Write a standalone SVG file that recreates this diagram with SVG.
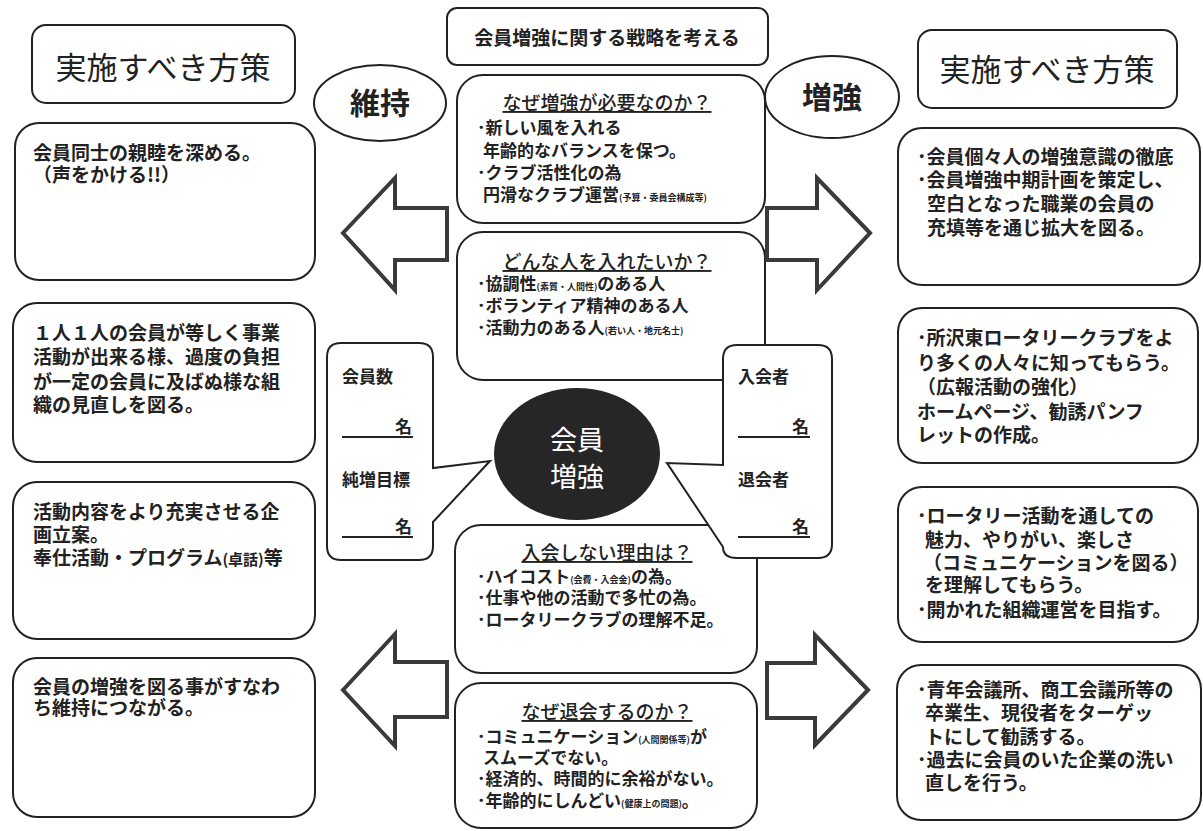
<svg xmlns="http://www.w3.org/2000/svg" width="1203" height="831" viewBox="0 0 1203 831">
<style>
text{font-family:"Noto Sans CJK JP","Noto Sans CJK SC",sans-serif;fill:#222;}
.box{fill:#fff;stroke:#222;stroke-width:2;}
.arrow{fill:#fff;stroke:#3a3a3a;stroke-width:4;stroke-linejoin:miter;}
.big{font-size:31px;}
.oval{font-size:30px;font-weight:700;}
.title{font-size:19px;font-weight:700;}
.hd{font-size:19px;font-weight:500;text-decoration:underline;}
.c{font-size:17px;font-weight:700;}
.s{font-size:19px;font-weight:700;}
.sm{font-size:9px;}
.ul{stroke:#222;stroke-width:2;}
</style>
<rect width="1203" height="831" fill="#fff"/>

<g id="title">
<rect class="box" x="447" y="8" width="321" height="57" rx="10"/>
<text class="title" x="607" y="45" text-anchor="middle">会員増強に関する戦略を考える</text>
</g>

<g id="left-header">
<rect class="box" x="32" y="25" width="263" height="78" rx="14"/>
<text class="big" x="163" y="79" text-anchor="middle">実施すべき方策</text>
</g>
<g id="right-header">
<rect class="box" x="918" y="30" width="259" height="78" rx="14"/>
<text class="big" x="1047" y="81" text-anchor="middle">実施すべき方策</text>
</g>

<g id="oval-iji">
<ellipse class="box" cx="380" cy="103" rx="66" ry="38" stroke-width="1.5"/>
<text class="oval" x="380" y="114" text-anchor="middle">維持</text>
</g>
<g id="oval-zokyo">
<ellipse class="box" cx="832" cy="97" rx="67" ry="41" stroke-width="1.5"/>
<text class="oval" x="832" y="108" text-anchor="middle">増強</text>
</g>

<g id="why-increase">
<rect class="box" x="457" y="75" width="308" height="148" rx="26"/>
<text class="hd" x="607" y="110" text-anchor="middle">なぜ増強が必要なのか？</text>
<text class="c" x="477" y="134">･新しい風を入れる</text>
<text class="c" x="483" y="157">年齢的なバランスを保つ。</text>
<text class="c" x="477" y="179">･クラブ活性化の為</text>
<text class="c" x="483" y="201">円滑なクラブ運営<tspan class="sm">(予算・委員会構成等)</tspan></text>
</g>

<g id="who-to-join">
<rect class="box" x="457" y="232" width="308" height="148" rx="26"/>
<text class="hd" x="607" y="269" text-anchor="middle">どんな人を入れたいか？</text>
<text class="c" x="477" y="290">･協調性<tspan class="sm">(素質・人間性)</tspan>のある人</text>
<text class="c" x="477" y="312">･ボランティア精神のある人</text>
<text class="c" x="477" y="334">･活動力のある人<tspan class="sm">(若い人・地元名士)</tspan></text>
</g>

<g id="why-not-join">
<rect class="box" x="455" y="525" width="302" height="148" rx="26"/>
<text class="hd" x="607" y="560" text-anchor="middle">入会しない理由は？</text>
<text class="c" x="477" y="583">･ハイコスト<tspan class="sm">(会費・入会金)</tspan>の為。</text>
<text class="c" x="477" y="604">･仕事や他の活動で多忙の為。</text>
<text class="c" x="477" y="626">･ロータリークラブの理解不足。</text>
</g>

<g id="why-leave">
<rect class="box" x="455" y="683" width="302" height="145" rx="26"/>
<text class="hd" x="607" y="719" text-anchor="middle">なぜ退会するのか？</text>
<text class="c" x="477" y="743">･コミュニケーション<tspan class="sm">(人間関係等)</tspan>が</text>
<text class="c" x="483" y="764">スムーズでない。</text>
<text class="c" x="477" y="785">･経済的、時間的に余裕がない。</text>
<text class="c" x="477" y="807">･年齢的にしんどい<tspan class="sm">(健康上の問題)</tspan>。</text>
</g>

<g id="center">
<ellipse cx="577" cy="454" rx="83" ry="66" fill="#262626"/>
<text x="577" y="450" text-anchor="middle" style="font-size:27px;fill:#fff;">会員</text>
<text x="577" y="487" text-anchor="middle" style="font-size:27px;fill:#fff;">増強</text>
</g>

<g id="member-count">
<path class="box" d="M341,343 H419 Q433,343 433,357 V468 L490,461 L433,522 V546 Q433,560 419,560 H341 Q327,560 327,546 V357 Q327,343 341,343 Z"/>
<text class="c" x="342" y="383">会員数</text>
<text class="c" x="412" y="433" text-anchor="end">名</text>
<line class="ul" x1="342" y1="437" x2="413" y2="437"/>
<text class="c" x="342" y="486">純増目標</text>
<text class="c" x="412" y="533" text-anchor="end">名</text>
<line class="ul" x1="342" y1="537" x2="413" y2="537"/>
</g>

<g id="join-leave">
<path class="box" d="M737,345 H818 Q832,345 832,359 V544 Q832,558 818,558 H737 Q723,558 723,547 L667,463 L723,465 V359 Q723,345 737,345 Z"/>
<text class="c" x="738" y="383">入会者</text>
<text class="c" x="809" y="433" text-anchor="end">名</text>
<line class="ul" x1="738" y1="437" x2="810" y2="437"/>
<text class="c" x="738" y="486">退会者</text>
<text class="c" x="809" y="533" text-anchor="end">名</text>
<line class="ul" x1="738" y1="537" x2="810" y2="537"/>
</g>

<g id="left-1">
<rect class="box" x="15" y="123" width="300" height="157" rx="24"/>
<text class="s" x="33" y="160">会員同士の親睦を深める。</text>
<text class="s" x="33" y="182">（声をかける!!）</text>
</g>
<g id="left-2">
<rect class="box" x="13" y="303" width="302" height="159" rx="24"/>
<text class="s" x="33" y="340">１人１人の会員が等しく事業</text>
<text class="s" x="33" y="364">活動が出来る様、過度の負担</text>
<text class="s" x="33" y="389">が一定の会員に及ばぬ様な組</text>
<text class="s" x="33" y="412">織の見直しを図る。</text>
</g>
<g id="left-3">
<rect class="box" x="13" y="482" width="302" height="157" rx="24"/>
<text class="s" x="33" y="519">活動内容をより充実させる企</text>
<text class="s" x="33" y="542">画立案。</text>
<text class="s" x="33" y="565">奉仕活動・プログラム<tspan style="font-size:15px">(卓話)</tspan>等</text>
</g>
<g id="left-4">
<rect class="box" x="13" y="658" width="302" height="159" rx="24"/>
<text class="s" x="33" y="694">会員の増強を図る事がすなわ</text>
<text class="s" x="33" y="715">ち維持につながる。</text>
</g>

<g id="right-1">
<rect class="box" x="898" y="128" width="302" height="157" rx="24"/>
<text class="s" x="917" y="164">･会員個々人の増強意識の徹底</text>
<text class="s" x="917" y="187">･会員増強中期計画を策定し、</text>
<text class="s" x="927" y="211">空白となった職業の会員の</text>
<text class="s" x="927" y="235">充填等を通じ拡大を図る。</text>
</g>
<g id="right-2">
<rect class="box" x="898" y="308" width="300" height="155" rx="24"/>
<text class="s" x="917" y="345">･所沢東ロータリークラブをよ</text>
<text class="s" x="917" y="370">り多くの人々に知ってもらう。</text>
<text class="s" x="917" y="394">（広報活動の強化）</text>
<text class="s" x="917" y="419">ホームページ、勧誘パンフ</text>
<text class="s" x="917" y="442">レットの作成。</text>
</g>
<g id="right-3">
<rect class="box" x="898" y="487" width="300" height="155" rx="24"/>
<text class="s" x="917" y="523">･ロータリー活動を通しての</text>
<text class="s" x="925" y="547">魅力、やりがい、楽しさ</text>
<text class="s" x="923" y="570">（コミュニケーションを図る）</text>
<text class="s" x="925" y="592">を理解してもらう。</text>
<text class="s" x="917" y="617">･開かれた組織運営を目指す。</text>
</g>
<g id="right-4">
<rect class="box" x="897" y="665" width="304" height="155" rx="24"/>
<text class="s" x="917" y="697">･青年会議所、商工会議所等の</text>
<text class="s" x="925" y="720">卒業生、現役者をターゲッ</text>
<text class="s" x="925" y="744">トにして勧誘する。</text>
<text class="s" x="917" y="767">･過去に会員のいた企業の洗い</text>
<text class="s" x="925" y="790">直しを行う。</text>
</g>

<g id="connectors">
<polygon class="arrow" points="343,233 395,178 395,208 447,208 447,260 395,260 395,290"/>
<polygon class="arrow" points="343,690 395,634 395,662 447,662 447,717 395,717 395,746"/>
<polygon class="arrow" points="870,233 817,178 817,208 767,208 767,260 817,260 817,290"/>
<polygon class="arrow" points="868,690 815,635 815,663 767,663 767,718 815,718 815,745"/>
</g>
</svg>
